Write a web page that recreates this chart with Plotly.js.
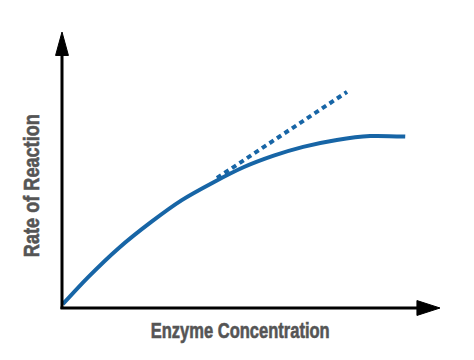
<!DOCTYPE html>
<html>
<head>
<meta charset="utf-8">
<script src="https://cdn.plot.ly/plotly-3.0.1.min.js"></script>
<style>html,body{margin:0;padding:0;background:#fff;}#chart{width:474px;height:360px;}</style>
</head>
<body>
<div id="chart"></div>
<script>
// Saturating rate curve (arbitrary units)
var curveX = [0.02, 0.70, 1.49, 2.37, 3.17, 4.00, 4.80, 5.60, 6.38, 7.27, 8.15, 9.08];
var curveY = [0.14, 1.13, 2.16, 3.13, 3.91, 4.55, 5.10, 5.52, 5.84, 6.09, 6.23, 6.21];
// Linear extrapolation (dotted)
var lineX = [4.10, 7.54];
var lineY = [4.71, 7.83];

var xTitle = "Enzyme Concentration";
var yTitle = "Rate of Reaction";

var blue = "#1765a6";
var titleFont = {family: "Liberation Sans, Arial, sans-serif", size: 22, color: "#555555", weight: "bold"};

var traces = [
  {x: curveX, y: curveY, mode: "lines", line: {color: blue, width: 4, shape: "spline", smoothing: 0.8}, hoverinfo: "skip"},
  {x: lineX, y: lineY, mode: "lines", line: {color: blue, width: 4, dash: "5px,4px"}, hoverinfo: "skip"}
];

var layout = {
  width: 474, height: 360,
  margin: {l: 62, r: 34, t: 32, b: 52},
  paper_bgcolor: "#fff", plot_bgcolor: "#fff",
  showlegend: false,
  xaxis: {range: [0, 10], showgrid: false, zeroline: false, showticklabels: false, ticks: "", showline: false, fixedrange: true},
  yaxis: {range: [0, 10], showgrid: false, zeroline: false, showticklabels: false, ticks: "", showline: false, fixedrange: true},
  shapes: [
    {type: "line", xref: "paper", yref: "paper", x0: 0, y0: -0.004, x1: 0, y1: 0.93, line: {color: "#000", width: 3}},
    {type: "line", xref: "paper", yref: "paper", x0: -0.004, y0: 0, x1: 0.95, y1: 0, line: {color: "#000", width: 3}},
    {type: "path", xref: "paper", yref: "paper", path: "M -0.017 0.915 L 0.017 0.915 L 0 1 Z", fillcolor: "#000", line: {color: "#000", width: 1}},
    {type: "path", xref: "paper", yref: "paper", path: "M 0.939 0.027 L 0.939 -0.027 L 1 0 Z", fillcolor: "#000", line: {color: "#000", width: 1}}
  ],
  annotations: [
    {text: xTitle, xref: "paper", yref: "paper", x: 0.472, y: -0.08, xanchor: "center", yanchor: "middle", showarrow: false, font: titleFont},
    {text: yTitle, xref: "paper", yref: "paper", x: -0.082, y: 0.444, xanchor: "center", yanchor: "middle", textangle: -90, showarrow: false, font: titleFont}
  ]
};

var titleLengths = {};
titleLengths[xTitle] = 179;
titleLengths[yTitle] = 143;

Plotly.newPlot("chart", traces, layout, {displayModeBar: false, staticPlot: true}).then(function (gd) {
  var texts = gd.querySelectorAll("text.annotation-text");
  texts.forEach(function (t) {
    var len = titleLengths[t.textContent];
    if (len) {
      t.setAttribute("textLength", len);
      t.setAttribute("lengthAdjust", "spacingAndGlyphs");
      t.style.stroke = "#555555";
      t.style.strokeWidth = "0.6px";
    }
  });
});
</script>
</body>
</html>
